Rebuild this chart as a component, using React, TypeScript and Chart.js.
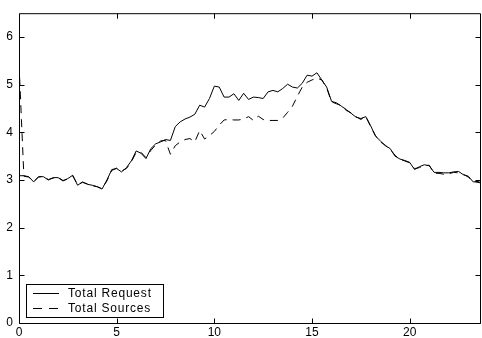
import React, { useEffect, useRef } from "react";
import { Chart, registerables } from "chart.js";

Chart.register(...registerables);

const hours = [
  0, 0.25, 0.5, 0.75, 1, 1.25, 1.5, 1.75, 2, 2.25, 2.5, 2.75, 3, 3.25, 3.5, 3.75,
  4, 4.25, 4.5, 4.75, 5, 5.25, 5.5, 5.75, 6, 6.25, 6.5, 6.75, 7, 7.25, 7.5, 7.75,
  8, 8.25, 8.5, 8.75, 9, 9.25, 9.5, 9.75, 10, 10.25, 10.5, 10.75, 11, 11.25, 11.5, 11.75,
  12, 12.25, 12.5, 12.75, 13, 13.25, 13.5, 13.75, 14, 14.25, 14.5, 14.75, 15, 15.25, 15.5, 15.75,
  16, 16.25, 16.5, 16.75, 17, 17.25, 17.5, 17.75, 18, 18.25, 18.5, 18.75, 19, 19.25, 19.5, 19.75,
  20, 20.25, 20.5, 20.75, 21, 21.25, 21.5, 21.75, 22, 22.25, 22.5, 22.75, 23, 23.25, 23.5, 23.75,
];

const totalRequest = [
  3.09, 3.09, 3.07, 2.96, 3.07, 3.07, 3.0, 3.05, 3.05, 2.98, 3.03, 3.1, 2.89, 2.96, 2.91, 2.89,
  2.86, 2.81, 3.0, 3.22, 3.24, 3.17, 3.26, 3.4, 3.61, 3.56, 3.45, 3.66, 3.76, 3.8, 3.85, 3.83,
  4.12, 4.22, 4.28, 4.32, 4.38, 4.57, 4.53, 4.71, 4.97, 4.95, 4.74, 4.74, 4.81, 4.67, 4.82, 4.69,
  4.74, 4.73, 4.71, 4.85, 4.88, 4.85, 4.92, 5.01, 4.95, 4.93, 5.03, 5.2, 5.18, 5.25, 5.1, 4.95,
  4.65, 4.62, 4.55, 4.48, 4.4, 4.32, 4.29, 4.33, 4.14, 3.92, 3.82, 3.72, 3.66, 3.5, 3.44, 3.41,
  3.37, 3.22, 3.28, 3.32, 3.3, 3.16, 3.16, 3.15, 3.15, 3.17, 3.18, 3.11, 3.08, 2.96, 2.97, 2.92,
];

const totalSources = [
  5.45, 3.08, 3.06, 2.97, 3.06, 3.08, 3.01, 3.04, 3.06, 2.99, 3.02, 3.09, 2.9, 2.95, 2.92, 2.88,
  2.86, 2.82, 2.98, 3.2, 3.25, 3.19, 3.24, 3.38, 3.58, 3.58, 3.47, 3.62, 3.74, 3.82, 3.83, 3.54,
  3.72, 3.8, 3.85, 3.87, 3.8, 4.04, 3.86, 3.93, 4.02, 4.15, 4.26, 4.27, 4.26, 4.26, 4.28, 4.33,
  4.25, 4.34, 4.27, 4.25, 4.25, 4.25, 4.3, 4.42, 4.55, 4.76, 4.95, 5.05, 5.1, 5.14, 5.1, 4.93,
  4.64, 4.6, 4.56, 4.46, 4.41, 4.33, 4.27, 4.34, 4.12, 3.93, 3.8, 3.73, 3.64, 3.52, 3.43, 3.4,
  3.36, 3.24, 3.26, 3.3, 3.31, 3.14, 3.14, 3.12, 3.13, 3.16, 3.15, 3.12, 3.06, 2.97, 2.95, 2.93,
];

const xTicks = [0, 5, 10, 15, 20];
const yTicks = [0, 1, 2, 3, 4, 5, 6];
const seriesNames = ["Total Request", "Total Sources"];

const FONT = "Liberation Sans, Arial, Helvetica, sans-serif";

const framePlugin = {
  id: "frame",
  afterDraw(chart: any) {
    const ctx = chart.ctx;
    const { left, right, top, bottom } = chart.chartArea;
    const xs = chart.scales.x;
    const ys = chart.scales.y;
    ctx.save();
    ctx.strokeStyle = "#000";
    ctx.lineWidth = 1;
    ctx.setLineDash([]);
    ctx.beginPath();
    ctx.rect(left + 0.5, top + 0.5, right - left - 1, bottom - top);
    ctx.stroke();
    const tl = 5;
    ctx.beginPath();
    xTicks.forEach((v) => {
      const px = Math.round(xs.getPixelForValue(v)) + 0.5;
      ctx.moveTo(px, bottom + 0.5);
      ctx.lineTo(px, bottom + 0.5 - tl);
      ctx.moveTo(px, top + 0.5);
      ctx.lineTo(px, top + 0.5 + tl);
    });
    yTicks.forEach((v) => {
      const py = Math.round(ys.getPixelForValue(v)) + 0.5;
      ctx.moveTo(left + 0.5, py);
      ctx.lineTo(left + 0.5 + tl, py);
      ctx.moveTo(right - 0.5, py);
      ctx.lineTo(right - 0.5 - tl, py);
    });
    ctx.stroke();

    // legend box inside plot
    const bx = 26, by = 284, bw = 137, bh = 33;
    ctx.fillStyle = "#fff";
    ctx.fillRect(bx, by, bw, bh);
    ctx.strokeRect(bx + 0.5, by + 0.5, bw, bh);
    const rows = [by + 9.5, by + 24.5];
    ctx.beginPath();
    ctx.moveTo(33, rows[0]);
    ctx.lineTo(59, rows[0]);
    ctx.stroke();
    ctx.setLineDash([9, 7]);
    ctx.beginPath();
    ctx.moveTo(33, rows[1]);
    ctx.lineTo(60, rows[1]);
    ctx.stroke();
    ctx.setLineDash([]);
    ctx.fillStyle = "#000";
    ctx.font = "12px " + FONT;
    try { (ctx as any).letterSpacing = "0.8px"; } catch (e) {}
    ctx.textBaseline = "middle";
    ctx.textAlign = "left";
    seriesNames.forEach((n, i) => ctx.fillText(n, 68, rows[i]));
    try { (ctx as any).letterSpacing = "0px"; } catch (e) {}
    ctx.restore();
  },
};

export default function App() {
  const ref = useRef<HTMLCanvasElement>(null);
  useEffect(() => {
    if (!ref.current) return;
    const chart = new Chart(ref.current, {
      type: "line",
      data: {
        datasets: [
          {
            label: seriesNames[0],
            data: hours.map((h, i) => ({ x: h, y: totalRequest[i] })),
            borderColor: "#000",
            borderWidth: 1,
            pointRadius: 0,
            tension: 0,
            fill: false,
          },
          {
            label: seriesNames[1],
            data: hours.map((h, i) => ({ x: h, y: totalSources[i] })),
            borderColor: "#000",
            borderWidth: 1,
            borderDash: [8, 6],
            pointRadius: 0,
            tension: 0,
            fill: false,
          },
        ],
      },
      options: {
        responsive: false,
        animation: false,
        events: [],
        layout: { padding: { top: 11, right: 1, left: 0, bottom: 0 } },
        plugins: { legend: { display: false }, tooltip: { enabled: false } },
        scales: {
          x: {
            type: "linear",
            min: 0,
            max: 23.65,
            grid: { display: false, drawTicks: false },
            border: { display: false },
            afterBuildTicks: (s: any) => {
              s.ticks = xTicks.map((v) => ({ value: v }));
            },
            afterFit: (s: any) => {
              s.height = 15;
            },
            ticks: {
              color: "#000",
              font: { family: FONT, size: 12 },
              padding: 2,
              maxRotation: 0,
              autoSkip: false,
            },
          },
          y: {
            type: "linear",
            min: 0,
            max: 6.5,
            grid: { display: false, drawTicks: false },
            border: { display: false },
            afterBuildTicks: (s: any) => {
              s.ticks = yTicks.map((v) => ({ value: v }));
            },
            afterFit: (s: any) => {
              s.width = 19;
            },
            ticks: {
              color: "#000",
              font: { family: FONT, size: 12 },
              padding: 6,
              autoSkip: false,
            },
          },
        },
      },
      plugins: [framePlugin],
    });
    return () => chart.destroy();
  }, []);
  return (
    <div style={{ position: "absolute", left: 0, top: 0, width: 482, height: 338, background: "#fff" }}>
      <canvas ref={ref} width={482} height={338} style={{ display: "block" }} />
    </div>
  );
}
